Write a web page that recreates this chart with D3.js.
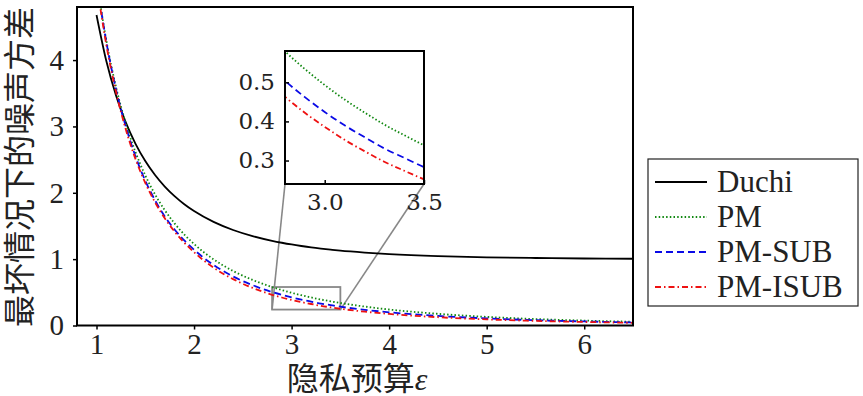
<!DOCTYPE html>
<html>
<head>
<meta charset="utf-8">
<script src="https://cdn.jsdelivr.net/npm/d3@7"></script>
<style>
  body { margin: 0; background: #fff; }
</style>
</head>
<body>
<div id="chart"></div>
<script>
// privacy budget values
var eps = [1.0, 1.1, 1.2, 1.3, 1.4, 1.5, 1.6, 1.7, 1.8, 1.9, 2.0, 2.2, 2.4, 2.6, 2.8, 2.9, 3.0, 3.1, 3.2, 3.3, 3.4, 3.5, 3.75, 4.0, 4.5, 5.0, 5.5, 6.0, 6.5];
var duchi = [4.68, 3.99, 3.467, 3.06, 2.738, 2.479, 2.268, 2.094, 1.949, 1.827, 1.724, 1.561, 1.439, 1.347, 1.276, 1.247, 1.221, 1.198, 1.177, 1.159, 1.143, 1.128, 1.099, 1.076, 1.045, 1.027, 1.017, 1.010, 1.006];
var pm = [5.22, 4.30, 3.594, 3.047, 2.612, 2.262, 1.976, 1.738, 1.539, 1.371, 1.228, 0.997, 0.822, 0.687, 0.579, 0.534, 0.493, 0.456, 0.423, 0.392, 0.365, 0.339, 0.285, 0.241, 0.176, 0.130, 0.097, 0.074, 0.056];
var pmSub = [5.22, 4.28, 3.558, 3.001, 2.547, 2.183, 1.887, 1.642, 1.447, 1.282, 1.142, 0.912, 0.740, 0.608, 0.504, 0.462, 0.424, 0.390, 0.360, 0.331, 0.307, 0.283, 0.237, 0.199, 0.144, 0.107, 0.080, 0.061, 0.046];
var pmIsub = [5.17, 4.236, 3.522, 2.956, 2.508, 2.149, 1.857, 1.616, 1.416, 1.248, 1.105, 0.872, 0.699, 0.567, 0.463, 0.422, 0.386, 0.353, 0.324, 0.297, 0.274, 0.252, 0.208, 0.174, 0.125, 0.092, 0.069, 0.053, 0.040];

var seriesNames = ["Duchi", "PM", "PM-SUB", "PM-ISUB"];
var xTicks = [1, 2, 3, 4, 5, 6];
var yTicks = [0, 1, 2, 3, 4];
var insetXTicks = [3.0, 3.5];
var insetYTicks = [0.3, 0.4, 0.5];

var SERIF = "'Liberation Serif', 'Times New Roman', 'DejaVu Serif', serif";
var CJK = "'Liberation Serif', 'Noto Sans CJK SC', serif";

var styles = [
  { color: "#000000", dash: null },
  { color: "#118811", dash: "1.5,2.2" },
  { color: "#0a0ae6", dash: "7,4" },
  { color: "#ee1111", dash: "6,3,1.5,3" }
];

var series = [duchi, pm, pmSub, pmIsub].map(function (vals, i) {
  return { name: seriesNames[i], style: styles[i],
    points: eps.map(function (e, j) { return { x: e, y: vals[j] }; }) };
});

var width = 863, height = 396;
var svg = d3.select("#chart").append("svg")
  .attr("width", width)
  .attr("height", height);

var x = d3.scaleLinear().domain([0.8, 6.5]).range([77, 633]);
var y = d3.scaleLinear().domain([0, 4.8]).range([325.5, 7]);

svg.append("clipPath").attr("id", "clipMain")
  .append("rect").attr("x", 77).attr("y", 7).attr("width", 556).attr("height", 318.5);

// axes
var xAxis = svg.append("g")
  .attr("transform", "translate(0,325.5)")
  .call(d3.axisBottom(x).tickValues(xTicks).tickFormat(d3.format("d")).tickSize(4).tickSizeOuter(0).tickPadding(4));
var yAxis = svg.append("g")
  .attr("transform", "translate(77,0)")
  .call(d3.axisLeft(y).tickValues(yTicks).tickFormat(d3.format("d")).tickSize(4).tickSizeOuter(0).tickPadding(9));
[xAxis, yAxis].forEach(function (a) {
  a.attr("font-family", null);
  a.select(".domain").remove();
  a.selectAll(".tick line").attr("stroke", "#000").attr("stroke-width", 1.5);
  a.selectAll(".tick text").style("font-size", "29px").style("font-family", SERIF).attr("fill", "#222");
});

// zoom box + connectors (under curves)
var ix = d3.scaleLinear().domain([2.8, 3.5]).range([285, 424]);
var iy = d3.scaleLinear().domain([0.24, 0.58]).range([184, 51]);

svg.append("rect")
  .attr("x", x(2.8)).attr("y", y(0.58))
  .attr("width", x(3.5) - x(2.8)).attr("height", y(0.24) - y(0.58))
  .attr("fill", "none").attr("stroke", "#888").attr("stroke-width", 1.8);
svg.append("line")
  .attr("x1", ix.range()[0]).attr("y1", iy.range()[0])
  .attr("x2", x(2.8)).attr("y2", y(0.24))
  .attr("stroke", "#888").attr("stroke-width", 1.6);
svg.append("line")
  .attr("x1", ix.range()[1]).attr("y1", iy.range()[0])
  .attr("x2", x(3.5)).attr("y2", y(0.24))
  .attr("stroke", "#888").attr("stroke-width", 1.6);

var line = d3.line().x(d => x(d.x)).y(d => y(d.y)).curve(d3.curveMonotoneX);
svg.append("g").attr("clip-path", "url(#clipMain)")
  .selectAll("path")
  .data(series)
  .enter()
  .append("path")
  .attr("d", d => line(d.points))
  .attr("fill", "none")
  .attr("stroke", d => d.style.color)
  .attr("stroke-width", 1.8)
  .attr("stroke-dasharray", d => d.style.dash);

// main frame
svg.append("rect")
  .attr("x", 77).attr("y", 7).attr("width", 556).attr("height", 318.5)
  .attr("fill", "none").attr("stroke", "#000").attr("stroke-width", 2);

// inset
svg.append("clipPath").attr("id", "clipInset")
  .append("rect").attr("x", 285).attr("y", 51).attr("width", 139).attr("height", 133);
svg.append("rect")
  .attr("x", 285).attr("y", 51).attr("width", 139).attr("height", 133)
  .attr("fill", "#fff");
var iline = d3.line().x(d => ix(d.x)).y(d => iy(d.y)).curve(d3.curveMonotoneX);
svg.append("g").attr("clip-path", "url(#clipInset)")
  .selectAll("path")
  .data(series)
  .enter()
  .append("path")
  .attr("d", d => iline(d.points))
  .attr("fill", "none")
  .attr("stroke", d => d.style.color)
  .attr("stroke-width", 1.8)
  .attr("stroke-dasharray", d => d.style.dash);

var ixAxis = svg.append("g")
  .attr("transform", "translate(0,184)")
  .call(d3.axisBottom(ix).tickValues(insetXTicks).tickFormat(d3.format(".1f")).tickSize(-4).tickSizeOuter(0).tickPadding(10));
var iyAxis = svg.append("g")
  .attr("transform", "translate(285,0)")
  .call(d3.axisLeft(iy).tickValues(insetYTicks).tickFormat(d3.format(".1f")).tickSize(-4).tickSizeOuter(0).tickPadding(10));
[ixAxis, iyAxis].forEach(function (a) {
  a.attr("font-family", null);
  a.select(".domain").remove();
  a.selectAll(".tick line").attr("stroke", "#000").attr("stroke-width", 1.5);
  a.selectAll(".tick text").style("font-size", "23px").style("font-family", "'DejaVu Serif', serif").attr("fill", "#222");
});
svg.append("rect")
  .attr("x", 285).attr("y", 51).attr("width", 139).attr("height", 133)
  .attr("fill", "none").attr("stroke", "#000").attr("stroke-width", 2);

// axis titles
svg.append("text")
  .attr("transform", "translate(20,167) rotate(-90)")
  .attr("text-anchor", "middle")
  .attr("dominant-baseline", "central")
  .attr("fill", "#222")
  .style("font-family", CJK)
  .style("font-size", "32px")
  .text("最坏情况下的噪声方差");

var xt = svg.append("text")
  .attr("x", 357).attr("y", 390)
  .attr("text-anchor", "middle")
  .attr("fill", "#222")
  .style("font-family", CJK)
  .style("font-size", "32px");
xt.append("tspan").text("隐私预算");
xt.append("tspan").style("font-style", "italic").style("font-family", SERIF).text("ε");

// legend
var legend = svg.append("g");
legend.append("rect")
  .attr("x", 648).attr("y", 159).attr("width", 210).attr("height", 147)
  .attr("fill", "#fff").attr("stroke", "#222").attr("stroke-width", 1.2);
var rows = legend.selectAll("g.row")
  .data(series)
  .enter()
  .append("g")
  .attr("class", "row")
  .attr("transform", (d, i) => "translate(0," + (182 + i * 35) + ")");
rows.append("line")
  .attr("x1", 655).attr("x2", 707).attr("y1", 0).attr("y2", 0)
  .attr("stroke", d => d.style.color)
  .attr("stroke-width", 1.8)
  .attr("stroke-dasharray", d => d.style.dash);
rows.append("text")
  .attr("x", 717).attr("y", 10)
  .attr("fill", "#222")
  .style("font-family", SERIF)
  .style("font-size", "31px")
  .text(d => d.name);
</script>
</body>
</html>
